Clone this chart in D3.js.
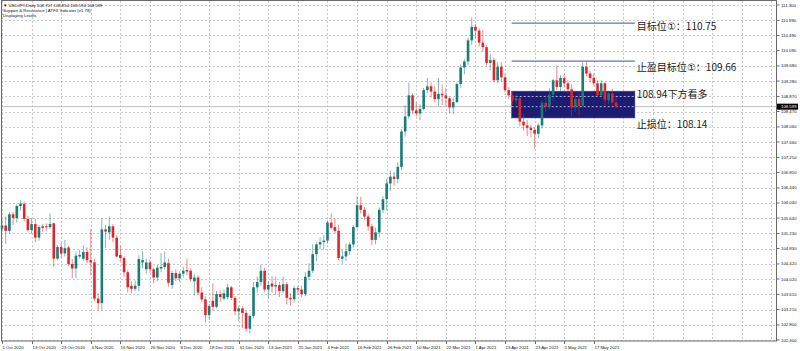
<!DOCTYPE html>
<html>
<head>
<meta charset="utf-8">
<script src="https://cdnjs.cloudflare.com/ajax/libs/d3/7.8.5/d3.min.js"></script>
<style>
@font-face { font-family:"CircNum"; src:local("DejaVu Sans"); unicode-range:U+2460-2473; }
body { margin:0; background:#fff; }
svg { display:block; font-family:"Liberation Sans", Arial, sans-serif; }
.tiny { font-size:4.3px; fill:#111; }
.note { font-family:"CircNum", "Noto Sans CJK SC", sans-serif; font-size:10px; fill:#1a1a1a; }
</style>
</head>
<body>
<svg width="800" height="351"></svg>
<script>
// USDJPY daily, 1 Oct 2020 .. 25 May 2021
var opens = [105.36,105.44,105.30,105.74,105.64,105.96,106.02,105.62,105.32,105.48,
105.12,105.42,105.42,105.40,105.50,104.56,104.87,104.70,104.86,104.42,
104.30,104.62,104.56,104.74,104.52,104.46,103.50,103.38,105.34,105.26,
105.42,105.12,104.66,104.58,104.20,103.84,103.76,103.84,104.46,104.28,
104.46,104.28,104.06,104.30,104.34,104.44,103.86,104.18,104.04,104.16,
104.26,104.24,103.96,104.06,103.66,103.48,103.06,103.44,103.28,103.62,
103.50,103.54,103.80,103.52,103.16,103.24,103.12,102.70,103.04,103.80,
103.94,104.24,103.74,103.90,103.82,103.86,103.70,103.88,103.52,103.48,
103.78,103.74,103.62,104.08,104.24,104.68,104.94,105.00,105.04,105.52,
105.40,105.30,104.56,104.62,104.76,104.94,105.40,105.98,105.86,105.68,
105.42,105.06,105.26,105.86,106.14,106.56,106.74,106.68,107.00,107.94,
108.34,108.90,108.50,108.42,108.54,109.04,109.14,109.00,108.80,108.94,
108.90,108.82,108.58,108.72,109.20,109.64,109.80,110.36,110.72,110.62,
110.30,110.18,109.76,109.84,109.30,109.66,109.38,109.04,108.90,108.76,
108.82,108.20,108.10,108.04,107.98,107.88,108.10,108.70,108.60,108.92,
109.30,109.12,109.36,109.22,109.06,108.58,108.80,108.62,109.66,109.48,
109.36,109.22,108.90,109.22,108.77,108.95,108.707];
var highs = [105.62,105.68,105.80,105.80,106.00,106.11,106.06,105.70,105.64,105.62,
105.45,105.48,105.50,105.76,105.52,104.92,104.98,105.06,104.90,104.55,
104.75,104.80,104.92,104.86,105.34,104.56,103.64,105.65,105.46,105.68,
105.48,105.18,104.90,104.62,104.26,103.96,103.98,104.66,104.76,104.56,
104.54,104.32,104.40,104.70,104.75,104.56,104.24,104.28,104.22,104.34,
104.56,104.30,104.14,104.12,103.80,103.56,103.36,103.90,103.70,103.72,
103.74,103.90,103.84,103.56,103.30,103.30,103.18,103.08,103.94,104.08,
104.40,104.32,103.96,104.10,104.08,103.94,104.08,103.94,103.64,103.84,
103.84,103.84,104.20,104.44,104.94,105.00,105.12,105.18,105.58,105.77,
105.64,105.46,104.80,104.96,105.00,105.46,106.22,106.20,105.94,105.76,
105.48,105.38,105.92,106.22,106.69,106.90,106.86,107.12,108.00,108.64,
109.24,108.96,108.72,108.66,109.10,109.36,109.24,109.14,109.36,109.18,
109.10,108.86,108.84,109.24,109.72,109.86,110.44,110.97,110.80,110.68,
110.64,110.24,110.00,109.90,109.78,109.78,109.48,109.12,109.00,108.94,
108.86,108.40,108.24,108.12,108.06,108.16,108.78,108.90,109.10,109.34,
109.70,109.44,109.48,109.30,109.20,108.90,108.96,109.78,109.80,109.56,
109.48,109.30,109.30,109.26,109.02,109.08,108.854];
var lows = [105.28,104.95,105.24,105.45,105.52,105.84,105.56,105.28,105.22,105.00,
105.04,105.28,105.30,105.34,104.34,104.52,104.58,104.62,104.36,104.04,
104.04,104.56,104.50,104.44,104.12,103.44,103.18,103.18,104.84,105.06,
105.00,104.58,104.50,104.08,103.66,103.64,103.70,103.70,104.30,104.16,
104.18,103.90,103.96,104.20,104.28,103.82,103.76,103.96,103.94,104.06,
104.12,103.96,103.58,103.60,103.40,102.86,102.94,103.18,103.24,103.42,
103.46,103.48,103.46,103.06,102.90,102.72,102.62,102.58,102.98,103.66,
103.84,103.68,103.52,103.66,103.60,103.54,103.64,103.34,103.32,103.40,
103.60,103.54,103.56,104.00,104.18,104.50,104.82,104.80,104.96,105.34,
105.22,104.52,104.42,104.50,104.66,104.86,105.36,105.76,105.60,105.30,
104.92,104.94,105.12,105.78,105.84,106.36,106.50,106.56,106.92,107.80,
108.28,108.40,108.34,108.24,108.50,108.96,108.84,108.72,108.62,108.64,
108.62,108.42,108.40,108.70,109.10,109.46,109.70,110.24,110.42,110.20,
110.06,109.70,109.56,109.24,109.22,109.26,108.98,108.80,108.64,108.64,
108.08,107.96,107.82,107.78,107.48,107.76,108.02,108.46,108.52,108.76,
109.04,109.00,109.10,108.94,108.34,108.46,108.36,108.56,109.40,109.24,
109.14,108.86,108.84,108.64,108.66,108.64,108.594];
var closes = [105.44,105.30,105.74,105.64,105.96,106.02,105.62,105.32,105.48,105.12,
105.40,105.38,105.40,105.48,104.56,104.87,104.70,104.84,104.42,104.30,
104.64,104.66,104.74,104.52,104.46,103.50,103.38,105.34,105.28,105.42,
105.12,104.62,104.58,104.20,103.80,103.76,103.84,104.55,104.52,104.46,
104.28,104.06,104.32,104.34,104.46,103.92,104.18,104.04,104.16,104.24,
104.22,104.02,104.06,103.66,103.48,103.06,103.30,103.28,103.62,103.54,
103.64,103.80,103.52,103.16,103.24,103.12,102.70,103.04,103.80,103.94,
104.24,103.74,103.86,103.82,103.86,103.70,103.88,103.52,103.48,103.78,
103.74,103.62,104.08,104.24,104.68,104.94,105.00,105.04,105.52,105.38,
105.30,104.58,104.62,104.76,104.94,105.40,105.98,105.86,105.68,105.42,
105.06,105.26,105.86,106.14,106.56,106.74,106.68,107.00,107.94,108.34,
108.90,108.50,108.42,108.54,109.04,109.14,109.00,108.80,108.94,108.90,
108.82,108.58,108.72,109.20,109.64,109.80,110.36,110.72,110.62,110.30,
110.18,109.76,109.84,109.30,109.66,109.38,109.04,108.90,108.76,108.82,
108.20,108.10,108.04,107.98,107.88,108.10,108.70,108.60,108.92,109.30,
109.12,109.36,109.22,109.06,108.58,108.80,108.62,109.66,109.48,109.36,
109.22,108.90,109.22,108.77,108.95,108.71,108.599];

var priceTicks = [111.30,110.89,110.49,110.09,109.68,109.28,108.87,108.47,108.06,107.66,107.25,
106.85,106.44,106.04,105.64,105.23,104.83,104.42,104.02,103.61,103.21,102.80,102.40];
var dateLabels = ["1 Oct 2020","13 Oct 2020","23 Oct 2020","4 Nov 2020","16 Nov 2020","26 Nov 2020",
"8 Dec 2020","18 Dec 2020","31 Dec 2020","13 Jan 2021","25 Jan 2021","4 Feb 2021","16 Feb 2021",
"26 Feb 2021","10 Mar 2021","22 Mar 2021","1 Apr 2021","13 Apr 2021","23 Apr 2021","5 May 2021","17 May 2021"];

var headerLines = ["\u25BC USDJPY,Daily  108.707 108.854 108.594 108.599",
"Support & Resistance | ATFX Indicator (v1.78)",
"Displaying Levels"];

// analyst levels (drawn lines) and their notes
var levelLines = [110.82, 109.81];
var zoneTop = 109.01, zoneBottom = 108.30;
var zoneDashes = [108.87, 108.599];
var levelSpan = [137.8, 171.1];     // bar index where the drawings start / end
var notes = ["目标位①：110.75", "止盈目标位①：109.66", "108.94下方看多", "止损位：108.14"];
var notePrices = [110.75, 109.66, 108.94, 108.14];

svg = d3.select("svg");
plotL = 1; plotR = 776; plotT = 1; plotB = 341;
barStep = 8;

x = d3.scaleLinear()
		.domain([0, closes.length - 1])
		.range([2, 616])
;
y = d3.scaleLinear()
		.domain([102.4, 111.3])
		.range([340, 5])
;
var bodyW = 2.6;

// grid
grid = svg.append("g").attr("class", "grid");
priceTicks.forEach(function(p) {
	grid.append("line")
		.attr("x1", plotL).attr("x2", plotR)
		.attr("y1", Math.round(y(p)) + 0.5).attr("y2", Math.round(y(p)) + 0.5)
		.attr("stroke", "#c9c9c9")
		.attr("stroke-dasharray", "2,2")
	;
});
d3.range(0, x.invert(plotR), barStep).forEach(function(i) {
	grid.append("line")
		.attr("x1", Math.round(x(i)) + 0.5).attr("x2", Math.round(x(i)) + 0.5)
		.attr("y1", plotT).attr("y2", plotB)
		.attr("stroke", "#c9c9c9")
		.attr("stroke-dasharray", "2,2")
	;
});

// analyst drawings
draw = svg.append("g").attr("class", "drawings");
draw.append("rect")
	.attr("x", x(levelSpan[0]))
	.attr("y", y(zoneTop))
	.attr("width", x(levelSpan[1]) - x(levelSpan[0]))
	.attr("height", y(zoneBottom) - y(zoneTop))
	.attr("fill", "#1c1c72")
	.attr("stroke", "#3a3aa0")
	.attr("stroke-width", 0.6)
;
zoneDashes.forEach(function(p) {
	draw.append("line")
		.attr("x1", x(levelSpan[0])).attr("x2", x(levelSpan[1]))
		.attr("y1", y(p)).attr("y2", y(p))
		.attr("stroke", "#d8d8f0")
		.attr("stroke-width", 0.8)
		.attr("stroke-dasharray", "2,2")
	;
});
levelLines.forEach(function(p) {
	draw.append("line")
		.attr("x1", x(levelSpan[0])).attr("x2", x(levelSpan[1]))
		.attr("y1", y(p)).attr("y2", y(p))
		.attr("stroke", "#5878b0")
		.attr("stroke-width", 1.2)
	;
});

// bid line
lastP = closes[closes.length - 1];
svg.append("line")
	.attr("x1", plotL).attr("x2", x(levelSpan[0]))
	.attr("y1", y(lastP)).attr("y2", y(lastP))
	.attr("stroke", "#bdbdbd")
;
svg.append("line")
	.attr("x1", x(levelSpan[1])).attr("x2", plotR)
	.attr("y1", y(lastP)).attr("y2", y(lastP))
	.attr("stroke", "#bdbdbd")
;

// candles
candles = svg.append("g").attr("class", "candles");
closes.forEach(function(c, i) {
	var o = opens[i];
	var up = c >= o;
	var col = up ? "#187c78" : "#e0262c";
	var cx = x(i);
	candles.append("line")
		.attr("x1", cx).attr("x2", cx)
		.attr("y1", y(highs[i])).attr("y2", y(lows[i]))
		.attr("stroke", col)
		.attr("stroke-opacity", 0.55)
		.attr("stroke-width", 1)
	;
	candles.append("rect")
		.attr("x", cx - bodyW / 2)
		.attr("y", y(Math.max(o, c)))
		.attr("width", bodyW)
		.attr("height", Math.max(1, Math.abs(y(o) - y(c))))
		.attr("fill", col)
	;
});

// notes
noteG = svg.append("g").attr("class", "notes");
notes.forEach(function(t, i) {
	noteG.append("text")
		.attr("class", "note")
		.attr("x", x(levelSpan[1]) + 2)
		.attr("y", y(notePrices[i]))
		.attr("dominant-baseline", "central")
		.text(t)
	;
});

// frame
svg.append("rect")
	.attr("x", plotL + 0.5).attr("y", plotT - 0.5)
	.attr("width", plotR - plotL).attr("height", plotB - plotT + 0.5)
	.attr("fill", "none")
	.attr("stroke", "#6a6a6a")
;

// price axis
asisY = svg.append("g").attr("class", "asisY");
priceTicks.forEach(function(p) {
	asisY.append("line")
		.attr("x1", plotR + 0.5).attr("x2", plotR + 3.5)
		.attr("y1", y(p)).attr("y2", y(p))
		.attr("stroke", "#6a6a6a")
	;
	asisY.append("text")
		.attr("class", "tiny")
		.attr("x", plotR + 5)
		.attr("y", y(p))
		.attr("dominant-baseline", "central")
		.text(d3.format(".3f")(p))
	;
});
asisY.append("rect")
	.attr("x", plotR + 1).attr("y", y(lastP) - 3)
	.attr("width", 21).attr("height", 6)
	.attr("fill", "#000")
;
asisY.append("text")
	.attr("class", "tiny")
	.attr("x", plotR + 5)
	.attr("y", y(lastP))
	.attr("dominant-baseline", "central")
	.style("fill", "#fff")
	.text(d3.format(".3f")(lastP))
;

// date axis
asisX = svg.append("g").attr("class", "asisX");
dateLabels.forEach(function(d, k) {
	var xi = Math.round(x(k * barStep)) + 0.5;
	asisX.append("line")
		.attr("x1", xi).attr("x2", xi)
		.attr("y1", plotB).attr("y2", plotB + 3)
		.attr("stroke", "#6a6a6a")
	;
	asisX.append("text")
		.attr("class", "tiny")
		.attr("x", xi)
		.attr("y", plotB + 6)
		.attr("dominant-baseline", "central")
		.text(d)
	;
});

// header
headerLines.forEach(function(t, i) {
	svg.append("text")
		.attr("class", "tiny")
		.attr("x", 3)
		.attr("y", 6.5 + i * 5.2)
		.text(t)
	;
});
</script>
</body>
</html>
